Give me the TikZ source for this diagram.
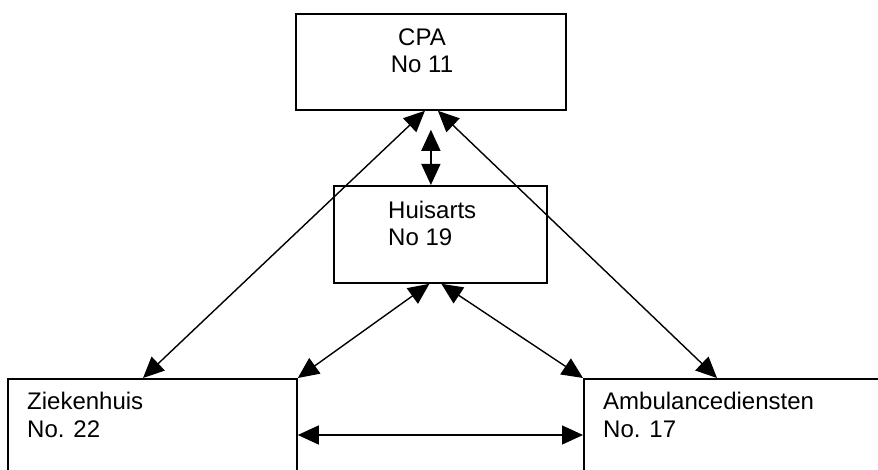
\documentclass[tikz,border=0pt]{standalone}
\usepackage{fontspec}
\setmainfont{Liberation Sans}
\usetikzlibrary{arrows.meta}
\begin{document}
\begin{tikzpicture}[x=1pt,y=-1pt,
  box/.style={draw,line width=1.8pt,rectangle,inner sep=0pt,anchor=north west},
  lbl/.style={inner sep=0pt,font=\fontsize{24}{27.5}\selectfont},
  conn/.style={line width=1.4pt,{Triangle[length=21pt,width=19pt]}-{Triangle[length=21pt,width=19pt]}}]
\useasboundingbox (0,0) rectangle (878,470);
\clip (0,0) rectangle (878,470);
\node[box,minimum width=270pt,minimum height=96pt] (cpa) at (295,13) {};
\node[box,minimum width=213pt,minimum height=97pt] (hui) at (333,185) {};
\node[box,minimum width=289pt,minimum height=130pt] (zk) at (7,378) {};
\node[box,minimum width=330pt,minimum height=130pt] (amb) at (583,378) {};
\node[lbl,align=center,anchor=base] (tcpa) at (422,73) {CPA\\No 11};
\node[lbl,align=left,anchor=base west] (thui) at (388,246) {Huisarts\\No 19};
\node[lbl,align=left,anchor=base west] (tzk) at (27,437) {Ziekenhuis\\No. 22};
\node[lbl,align=left,anchor=base west] (tamb) at (603,437) {Ambulancediensten\\No. 17};
\draw[conn] ([xshift=-6pt]cpa.south) -- ([xshift=136pt]zk.north west);
\draw[conn] ([xshift=7pt]cpa.south) -- ([xshift=134pt]amb.north west);
\draw[conn] ([yshift=-19pt]cpa.south) -- (cpa.south |- hui.north);
\draw[conn] ([xshift=-11pt]hui.south) -- (zk.north east);
\draw[conn] ([xshift=1pt]hui.south) -- (amb.north west);
\draw[conn] ([yshift=-57pt]zk.north east) -- ([yshift=-57pt]amb.north west);
\end{tikzpicture}
\end{document}
